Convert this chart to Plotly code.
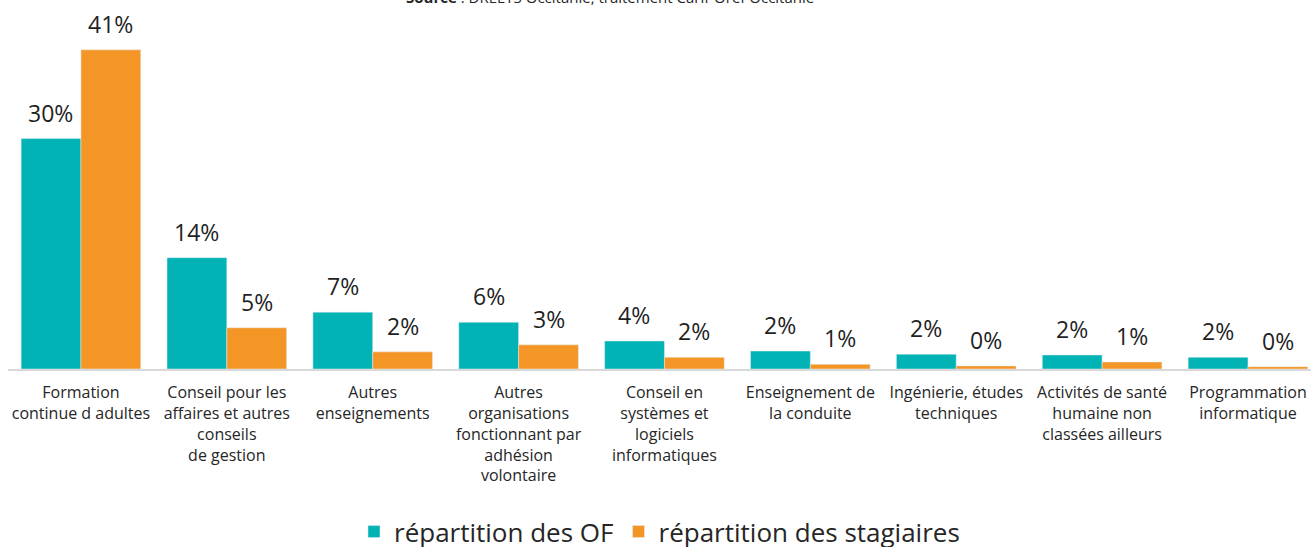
import plotly.graph_objects as go

categories = [
    "Formation<br>continue d adultes",
    "Conseil pour les<br>affaires et autres<br>conseils<br>de gestion",
    "Autres<br>enseignements",
    "Autres<br>organisations<br>fonctionnant par<br>adhésion<br>volontaire",
    "Conseil en<br>systèmes et<br>logiciels<br>informatiques",
    "Enseignement de<br>la conduite",
    "Ingénierie, études<br>techniques",
    "Activités de santé<br>humaine non<br>classées ailleurs",
    "Programmation<br>informatique",
]
repartition_of = [0.296, 0.143, 0.073, 0.060, 0.036, 0.023, 0.019, 0.018, 0.015]
repartition_stagiaires = [0.410, 0.053, 0.022, 0.031, 0.015, 0.006, 0.004, 0.009, 0.003]

teal = "#02b3b6"
orange = "#f39626"
font = "Open Sans"

fig = go.Figure()
fig.add_trace(go.Bar(x=categories, y=repartition_of, name="répartition des OF",
                     marker_color=teal))
fig.add_trace(go.Bar(x=categories, y=repartition_stagiaires, name="répartition des stagiaires",
                     marker_color=orange))

# value labels sit a bit higher above the bars than plotly's outside text
for vals, shift in [(repartition_of, -30), (repartition_stagiaires, 30)]:
    for cat, v in zip(categories, vals):
        fig.add_annotation(x=cat, y=v, text=f"{v:.0%}", showarrow=False,
                           yanchor="bottom", xshift=shift, yshift=8,
                           font=dict(size=23, color="#1f1f1f", family=font))

# source line, cut by the top edge as in the original
fig.add_annotation(text="<b>Source</b> : DREETS Occitanie, traitement Carif-Oref Occitanie",
                   xref="paper", yref="paper", x=0.462, y=1, yanchor="middle", yshift=3,
                   showarrow=False, font=dict(size=15, color="#262626", family=font))

fig.update_layout(
    width=1311, height=547,
    margin=dict(l=8, r=0, t=0, b=178),
    plot_bgcolor="white", paper_bgcolor="white",
    barmode="group", bargap=0.18, bargroupgap=0,
    font=dict(family=font, color="#262626"),
    xaxis=dict(range=[-0.5, 8.432], showline=True, linecolor="#d9d9d9", linewidth=2,
               tickfont=dict(size=16, color="#262626"), ticks="", tickangle=0,
               ticklabelstandoff=8),
    yaxis=dict(range=[0, 0.474], visible=False),
    legend=dict(orientation="h", x=0.5, xanchor="center", yref="container", y=0.028,
                yanchor="middle", font=dict(size=26, color="#262626"),
                itemwidth=30, traceorder="normal"),
    showlegend=True,
)

fig.write_html("out.html", config={"displayModeBar": False},
               post_script="document.body.style.margin='0';")
